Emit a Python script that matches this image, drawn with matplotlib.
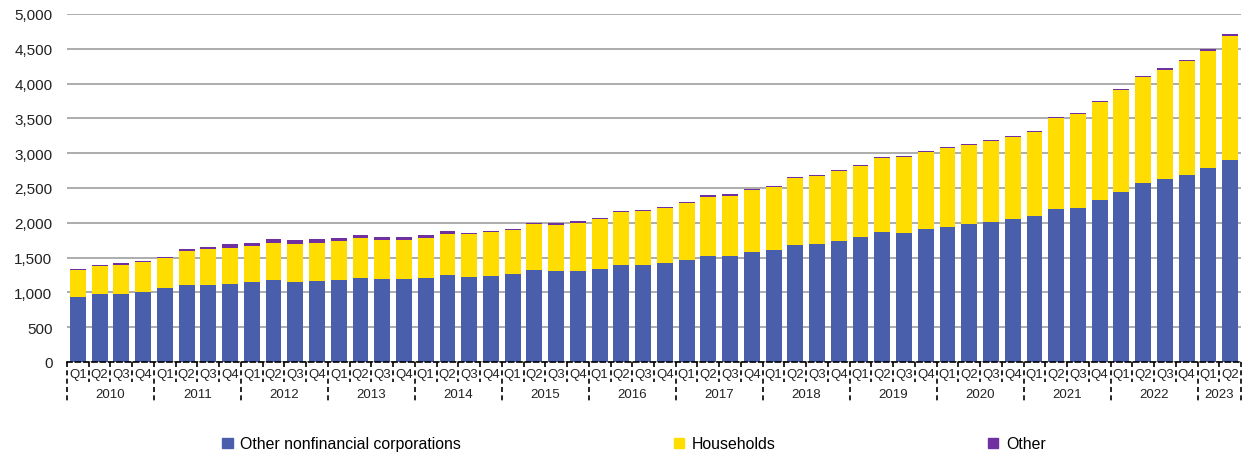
import matplotlib
matplotlib.use("Agg")
import matplotlib.pyplot as plt
import matplotlib.transforms as mtransforms
from matplotlib.patches import Patch
import numpy as np

plt.rcParams['font.family'] = ['Liberation Sans', 'DejaVu Sans']

years = [str(y) for y in range(2010, 2024)]
quarters = ["Q1", "Q2", "Q3", "Q4"]

# values (stack levels), 2010Q1 .. 2023Q2
corporations = [934, 977, 977, 1001, 1058, 1106, 1111, 1125, 1145, 1173, 1154, 1164,
                1183, 1212, 1193, 1193, 1212, 1250, 1221, 1236, 1260, 1322, 1307, 1307,
                1336, 1394, 1389, 1422, 1466, 1523, 1518, 1580, 1609, 1686, 1695, 1739,
                1796, 1863, 1858, 1911, 1940, 1983, 2007, 2050, 2093, 2203, 2217, 2328,
                2447, 2572, 2629, 2692, 2783, 2902]
corp_plus_hh = [1317, 1379, 1398, 1437, 1494, 1595, 1619, 1638, 1662, 1715, 1695, 1710,
                1739, 1777, 1753, 1758, 1782, 1844, 1834, 1868, 1892, 1983, 1973, 2002,
                2050, 2155, 2170, 2213, 2285, 2375, 2385, 2466, 2514, 2639, 2668, 2744,
                2816, 2926, 2945, 3012, 3070, 3118, 3175, 3233, 3305, 3501, 3558, 3731,
                3903, 4090, 4200, 4320, 4473, 4679]
totals = [1331, 1398, 1418, 1456, 1513, 1624, 1648, 1691, 1715, 1772, 1753, 1762,
          1777, 1820, 1791, 1801, 1820, 1882, 1849, 1882, 1906, 1997, 1992, 2021,
          2064, 2170, 2179, 2232, 2299, 2395, 2409, 2490, 2534, 2653, 2687, 2754,
          2830, 2941, 2960, 3027, 3084, 3127, 3185, 3247, 3324, 3515, 3573, 3750,
          3918, 4104, 4219, 4334, 4502, 4713]

corporations = np.array(corporations)
households = np.array(corp_plus_hh) - corporations
other = np.array(totals) - np.array(corp_plus_hh)

blue = "#4A5FAB"
yellow = "#FFDD00"
purple = "#7030A0"

fig = plt.figure(figsize=(12.49, 4.56), dpi=100)
ax = fig.add_axes([67 / 1249, 1 - 363 / 456, 1174 / 1249, 348 / 456])

x = np.arange(len(corporations))
w = 0.73
ax.bar(x, corporations, w, color=blue, zorder=3)
ax.bar(x, households, w, bottom=corporations, color=yellow, zorder=3)
ax.bar(x, other, w, bottom=corporations + households, color=purple, zorder=3)

ax.set_xlim(-0.5, len(x) - 0.5)
ax.set_ylim(0, 5000)
ax.set_yticks(np.arange(0, 5001, 500))
ax.set_yticklabels([f"{v:,}" for v in range(0, 5001, 500)], fontsize=11, color="#222222")
ax.yaxis.grid(True, color="#A6A6A6", linewidth=1.3, zorder=0)
ax.tick_params(axis="y", length=0, pad=10.5)
ax.set_xticks([])
for s in ["top", "right", "left"]:
    ax.spines[s].set_visible(False)
ax.spines["bottom"].set_linestyle((0, (3, 2)))
ax.spines["bottom"].set_linewidth(1.2)
ax.spines["bottom"].set_zorder(4)

# two-level category axis with dashed separators
trans = mtransforms.blended_transform_factory(ax.transData, ax.transAxes)
ph = 348.0
for i in range(len(x) + 1):
    is_year = (i % 4 == 0) or i == len(x)
    y_end = -40 / ph if is_year else -20 / ph
    ax.plot([i - 0.5, i - 0.5], [0, y_end], transform=trans, color="black",
            linestyle=(0, (3, 2)), linewidth=1.2, clip_on=False)
for i in x:
    ax.text(i, -12 / ph, quarters[i % 4], transform=trans, ha="center", va="center",
            fontsize=9.5, color="#222222")
for k, yr in enumerate(years):
    start = k * 4
    end = min(start + 4, len(x))
    ax.text((start + end - 1) / 2, -32 / ph, yr, transform=trans, ha="center",
            va="center", fontsize=9.5, color="#222222")

handles = [Patch(color=blue), Patch(color=yellow), Patch(color=purple)]
labels = ["Other nonfinancial corporations", "Households", "Other"]
fig.legend(handles, labels, loc="center", bbox_to_anchor=(634 / 1249, 1 - 445 / 456),
           ncol=3, frameon=False, fontsize=11.4, handlelength=0.65, handleheight=0.65,
           handletextpad=0.5, columnspacing=13.4)

fig.savefig("out.png", dpi=100)
